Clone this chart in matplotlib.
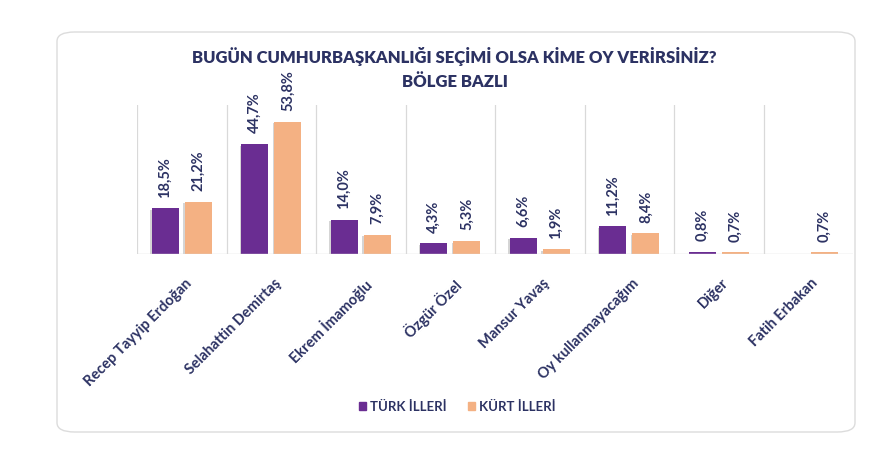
import numpy as np
import matplotlib
matplotlib.use('Agg')
import matplotlib.pyplot as plt
import matplotlib.patheffects as pe
from matplotlib.patches import FancyBboxPatch, Patch

plt.rcParams['font.family'] = ['Lato', 'DejaVu Sans']

# data
categories = ['Recep Tayyip Erdoğan', 'Selahattin Demirtaş', 'Ekrem İmamoğlu', 'Özgür Özel',
              'Mansur Yavaş', 'Oy kullanmayacağım', 'Diğer', 'Fatih Erbakan']
turk  = [18.5, 44.7, 14.0, 4.3, 6.6, 11.2, 0.8, np.nan]
kurt  = [21.2, 53.8, 7.9, 5.3, 1.9, 8.4, 0.7, 0.7]
series_names = ['TÜRK İLLERİ', 'KÜRT İLLERİ']

purple = '#6A2D92'
orange = '#F4B183'
navy   = '#2C3263'

fig = plt.figure(figsize=(8.88, 4.62), dpi=100)
fig.patch.set_facecolor('white')

# card border
card = FancyBboxPatch((57/888, 1-432/462), 798/888, 400/462,
                      boxstyle='round,pad=0,rounding_size=0.02',
                      transform=fig.transFigure, facecolor='none',
                      edgecolor='#dcdcdc', lw=1.0, zorder=-1)
fig.patches.append(card)

ax = fig.add_axes([137/888, 1-254/462, 716/888, 149/462])
ax.set_facecolor('none')

x = np.arange(len(categories))
w = 0.30
off = 0.185
shadow = [pe.SimplePatchShadow(offset=(-1.2, -1.2), shadow_rgbFace='#888888', alpha=0.35), pe.Normal()]
b1 = ax.bar(x - off, turk, w, color=purple, zorder=3, path_effects=shadow)
b2 = ax.bar(x + off, kurt, w, color=orange, zorder=3, path_effects=shadow)

for bars, vals in ((b1, turk), (b2, kurt)):
    for rect, v in zip(bars, vals):
        if np.isnan(v):
            continue
        ax.text(rect.get_x() + rect.get_width()/2, v + 4.3,
                f'{v:.1f}%'.replace('.', ','), rotation=90, ha='center', va='bottom',
                fontsize=10.5, fontweight='bold', color=navy)

for b in np.arange(-0.5, len(categories) - 0.5, 1.0):
    ax.axvline(b, color='#d9d9d9', lw=0.9, zorder=1)
ax.axhline(0, color='#d9d9d9', lw=1.0, zorder=4)

ax.set_xlim(-0.5, len(categories) - 0.5)
ax.set_ylim(0, 60.5)
ax.set_yticks([])
ax.set_xticks(x + 0.03)
ax.set_xticklabels(categories, rotation=45, ha='right', rotation_mode='anchor',
                   fontsize=10.5, fontweight='bold', color=navy)
ax.tick_params(axis='x', length=0, pad=16)
for s in ax.spines.values():
    s.set_visible(False)

fig.text(0.512, 1-57/462, 'BUGÜN CUMHURBAŞKANLIĞI SEÇİMİ OLSA KİME OY VERİRSİNİZ?',
         ha='center', va='center', fontsize=12, fontweight='heavy', color=navy)
fig.text(0.512, 1-82/462, 'BÖLGE BAZLI', ha='center', va='center',
         fontsize=12, fontweight='heavy', color=navy)

handles = [Patch(color=purple), Patch(color=orange)]
leg = fig.legend(handles, series_names, loc='center', bbox_to_anchor=(0.515, 1-407/462),
                 ncol=2, frameon=False, handlelength=0.55, handleheight=0.55,
                 handletextpad=0.3, columnspacing=1.6,
                 prop={'weight': 'bold', 'size': 9.5})
for t in leg.get_texts():
    t.set_color(navy)

fig.savefig('out.png', dpi=100)
